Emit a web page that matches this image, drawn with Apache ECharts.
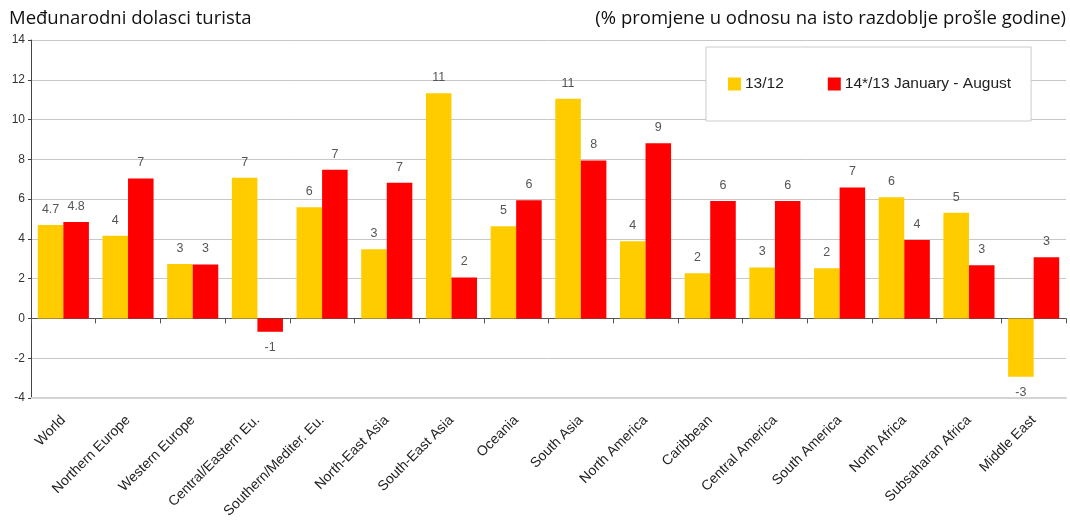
<!DOCTYPE html>
<html>
<head>
<meta charset="utf-8">
<script src="https://cdn.jsdelivr.net/npm/echarts@6/dist/echarts.min.js"></script>
<style>
  html, body { margin: 0; padding: 0; background: #fff; }
  #chart { width: 1070px; height: 524px; }
</style>
</head>
<body>
<div id="chart"></div>
<script>
  // kategorije i vrijednosti (očitano sa slike)
  const categories = ['World', 'Northern Europe', 'Western Europe', 'Central/Eastern Eu.', 'Southern/Mediter. Eu.',
    'North-East Asia', 'South-East Asia', 'Oceania', 'South Asia', 'North America', 'Caribbean',
    'Central America', 'South America', 'North Africa', 'Subsaharan Africa', 'Middle East']
  const values1312 = [4.7, 4.16, 2.74, 7.07, 5.59, 3.48, 11.32, 4.63, 11.05, 3.88, 2.27, 2.56, 2.53, 6.09, 5.32, -2.93]
  const values1413 = [4.85, 7.04, 2.71, -0.67, 7.48, 6.82, 2.06, 5.94, 7.94, 8.81, 5.9, 5.9, 6.59, 3.95, 2.68, 3.08]
  const labels1312 = ['4.7', '4', '3', '7', '6', '3', '11', '5', '11', '4', '2', '3', '2', '6', '5', '-3']
  const labels1413 = ['4.8', '7', '3', '-1', '7', '7', '2', '6', '8', '9', '6', '6', '7', '4', '3', '3']
  const seriesNames = ['13/12', '14*/13 January - August']

  const myChart = echarts.init(document.getElementById('chart'))

  function makeData(values) {
    return values.map(v => ({ value: v, label: { position: v < 0 ? 'bottom' : 'top' } }))
  }

  const labelStyle = (labels) => ({
    show: true,
    distance: 9,
    color: '#555',
    fontSize: 12.5,
    fontFamily: 'Liberation Sans, Arial',
    formatter: p => labels[p.dataIndex]
  })

  const titleFont = { fontFamily: 'Open Sans', fontSize: 18.5, fontWeight: 'normal', color: '#111' }

  myChart.setOption({
    animation: false,
    title: [
      { text: 'Međunarodni dolasci turista', left: 9, top: 9, padding: 0, textStyle: titleFont },
      { text: '(% promjene u odnosu na isto razdoblje prošle godine)', right: 4, top: 9, padding: 0, textStyle: titleFont }
    ],
    legend: {
      left: 706,
      top: 47,
      padding: [29, 20, 29, 22],
      itemWidth: 13,
      itemHeight: 13,
      itemGap: 44,
      icon: 'rect',
      backgroundColor: '#fff',
      borderColor: '#ccc',
      borderWidth: 1,
      textStyle: { fontFamily: 'Liberation Sans, Arial', fontSize: 15.5, color: '#222', padding: [0, 0, 0, -1] },
      data: seriesNames
    },
    grid: { left: 31, right: 4, top: 40, bottom: 126, containLabel: false },
    xAxis: [
      {
        type: 'category',
        data: categories,
        position: 'bottom',
        axisLine: { onZero: false, lineStyle: { color: '#d4d4d4', width: 2 } },
        axisTick: { show: false },
        axisLabel: {
          interval: 0,
          rotate: 45,
          margin: 20,
          color: '#222',
          fontSize: 14,
          fontFamily: 'Liberation Sans, Arial'
        }
      },
      {
        type: 'category',
        data: categories,
        position: 'bottom',
        axisLine: { onZero: true, lineStyle: { color: '#555', width: 1 } },
        axisTick: { show: true, interval: 0, length: 5, lineStyle: { color: '#555' } },
        axisLabel: { show: false, interval: 0 }
      }
    ],
    yAxis: {
      type: 'value',
      min: -4,
      max: 14,
      interval: 2,
      axisLine: { show: true, lineStyle: { color: '#444' } },
      axisTick: { show: true, length: 3, lineStyle: { color: '#444' } },
      axisLabel: { color: '#333', fontSize: 12, fontFamily: 'Liberation Sans, Arial', margin: 6 },
      splitLine: { lineStyle: { color: '#c8c8c8' } }
    },
    series: [
      {
        name: seriesNames[0],
        type: 'bar',
        xAxisIndex: 0,
        barGap: '0%',
        barCategoryGap: '21%',
        itemStyle: { color: '#ffcc00' },
        label: labelStyle(labels1312),
        data: makeData(values1312)
      },
      {
        name: seriesNames[1],
        type: 'bar',
        xAxisIndex: 0,
        itemStyle: { color: '#ff0000' },
        label: labelStyle(labels1413),
        data: makeData(values1413)
      }
    ]
  })
</script>
</body>
</html>
